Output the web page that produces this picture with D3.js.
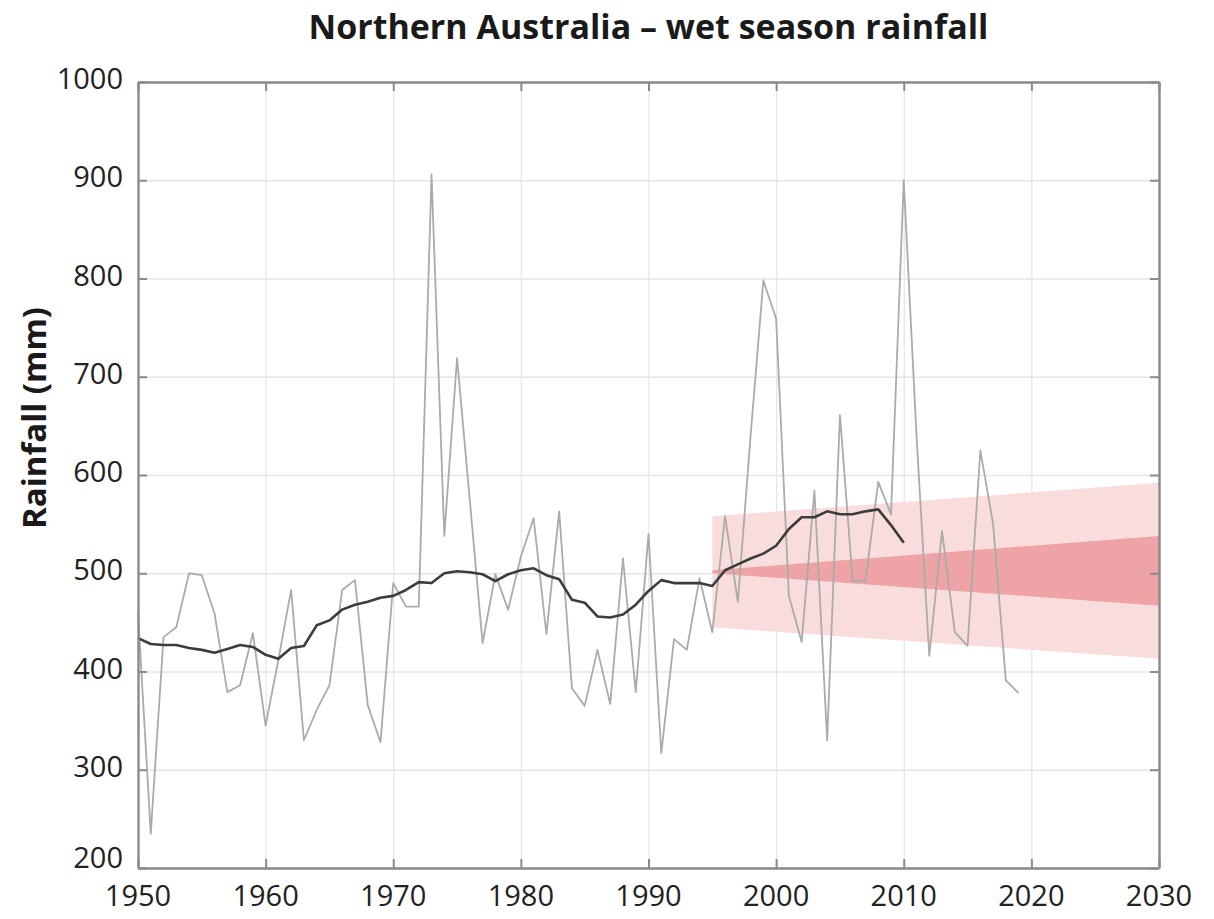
<!DOCTYPE html>
<html>
<head>
<meta charset="utf-8">
<script src="https://cdn.jsdelivr.net/npm/d3@7"></script>
<style>
  html, body { margin: 0; padding: 0; background: #ffffff; }
  svg { display: block; font-family: "Open Sans", "Noto Sans", sans-serif; }
</style>
</head>
<body>
<svg id="chart" width="1214" height="919"></svg>
<script>
// Annual wet season rainfall, northern Australia (mm)
const years = d3.range(1950, 2020);
const rainfall = [
  460, 235, 435, 445, 500, 498, 459, 379, 386, 439,
  345, 412, 483, 330, 361, 386, 483, 493, 366, 328,
  490, 466, 466, 906, 538, 719, 574, 429, 499, 463,
  517, 556, 438, 563, 383, 365, 422, 367, 515, 379,
  540, 317, 433, 422, 495, 440, 558, 471, 640, 798,
  759, 477, 430, 584, 330, 661, 492, 492, 593, 560,
  900, 640, 416, 543, 440, 426, 625, 550, 391, 378
];

// Smoothed (running mean) rainfall
const smoothYears = d3.range(1950, 2011);
const smoothed = [
  434, 428, 427, 427, 424, 422, 419, 423, 427, 425,
  417, 413, 424, 426, 447, 452, 463, 468, 471, 475,
  477, 483, 491, 490, 500, 502, 501, 499, 492, 499,
  503, 505, 498, 494, 473, 470, 456, 455, 458, 468,
  482, 493, 490, 490, 490, 487, 503, 509, 515, 520,
  528, 545, 557, 557, 563, 560, 560, 563, 565, 549,
  531
];

// Projected range: outer (light) and inner (dark) bands
const bandYears = [1995, 2030];
const outerLow = [445, 413];
const outerHigh = [558, 592];
const innerLow = [500, 467];
const innerHigh = [503, 538];

const xTicks = d3.range(1950, 2031, 10);
const yTicks = d3.range(200, 1001, 100);

const svg = d3.select("#chart");
const W = 1214, H = 919;
const margin = { left: 138, right: W - 1159, top: 82, bottom: H - 868 };

const x = d3.scaleLinear().domain([1950, 2030]).range([margin.left, W - margin.right]);
const y = d3.scaleLinear().domain([200, 1000]).range([H - margin.bottom, margin.top]);

// Grid
const grid = svg.append("g").attr("class", "grid");
grid.append("g")
  .attr("transform", `translate(0,${y(200)})`)
  .call(d3.axisBottom(x).tickValues(xTicks).tickSize(-(y(200) - y(1000))).tickFormat(""))
  .call(g => g.select(".domain").remove())
  .call(g => g.selectAll("line").attr("stroke", "#e6e6e6").attr("stroke-width", 1.3));
grid.append("g")
  .attr("transform", `translate(${x(1950)},0)`)
  .call(d3.axisLeft(y).tickValues(yTicks).tickSize(-(x(2030) - x(1950))).tickFormat(""))
  .call(g => g.select(".domain").remove())
  .call(g => g.selectAll("line").attr("stroke", "#e6e6e6").attr("stroke-width", 1.3));

// Projection bands
const bandArea = (lo, hi) => d3.area()
  .x((d, i) => x(bandYears[i]))
  .y0((d, i) => y(lo[i]))
  .y1((d, i) => y(hi[i]));

svg.append("path")
  .datum(bandYears)
  .attr("d", bandArea(outerLow, outerHigh))
  .attr("fill", "#f9dcdc");
svg.append("path")
  .datum(bandYears)
  .attr("d", bandArea(innerLow, innerHigh))
  .attr("fill", "#eea3a6");

// Annual series
const line = d3.line().x(d => x(d[0])).y(d => y(d[1]));
svg.append("path")
  .datum(years.map((yr, i) => [yr, rainfall[i]]))
  .attr("d", line)
  .attr("fill", "none")
  .attr("stroke", "#ababab")
  .attr("stroke-width", 1.8)
  .attr("stroke-linejoin", "round");

// Smoothed series
svg.append("path")
  .datum(smoothYears.map((yr, i) => [yr, smoothed[i]]))
  .attr("d", line)
  .attr("fill", "none")
  .attr("stroke", "#3c3c3c")
  .attr("stroke-width", 2.6)
  .attr("stroke-linejoin", "round");

// Frame with inward ticks on all sides
const tickLen = 9;
const axisStyle = g => {
  g.select(".domain").attr("stroke", "#8a8a8a").attr("stroke-width", 2.4);
  g.selectAll(".tick line").attr("stroke", "#8a8a8a").attr("stroke-width", 2);
};
svg.append("g")
  .attr("transform", `translate(0,${y(200)})`)
  .call(d3.axisBottom(x).tickValues(xTicks).tickSize(-tickLen).tickSizeOuter(0).tickFormat(""))
  .call(axisStyle);
svg.append("g")
  .attr("transform", `translate(0,${y(1000)})`)
  .call(d3.axisTop(x).tickValues(xTicks).tickSize(-tickLen).tickSizeOuter(0).tickFormat(""))
  .call(axisStyle);
svg.append("g")
  .attr("transform", `translate(${x(1950)},0)`)
  .call(d3.axisLeft(y).tickValues(yTicks).tickSize(-tickLen).tickSizeOuter(0).tickFormat(""))
  .call(axisStyle);
svg.append("g")
  .attr("transform", `translate(${x(2030)},0)`)
  .call(d3.axisRight(y).tickValues(yTicks).tickSize(-tickLen).tickSizeOuter(0).tickFormat(""))
  .call(axisStyle);

// Tick labels
svg.append("g").selectAll("text")
  .data(xTicks)
  .join("text")
  .attr("x", d => x(d))
  .attr("y", 906)
  .attr("text-anchor", "middle")
  .attr("font-size", 29)
  .attr("fill", "#222")
  .text(d => d);

svg.append("g").selectAll("text")
  .data(yTicks)
  .join("text")
  .attr("x", 123)
  .attr("y", d => y(d) - (d === 200 ? 10 : 3))
  .attr("dy", "0.35em")
  .attr("text-anchor", "end")
  .attr("font-size", 29)
  .attr("fill", "#222")
  .text(d => d);

// Title and axis label
svg.append("text")
  .attr("x", (x(1950) + x(2030)) / 2)
  .attr("y", 39)
  .attr("text-anchor", "middle")
  .attr("font-size", 34)
  .attr("font-weight", 700)
  .attr("fill", "#1a1a1a")
  .text("Northern Australia – wet season rainfall");

svg.append("text")
  .attr("transform", `translate(46,418) rotate(-90)`)
  .attr("text-anchor", "middle")
  .attr("font-size", 33)
  .attr("font-weight", 700)
  .attr("fill", "#1a1a1a")
  .text("Rainfall (mm)");
</script>
</body>
</html>
